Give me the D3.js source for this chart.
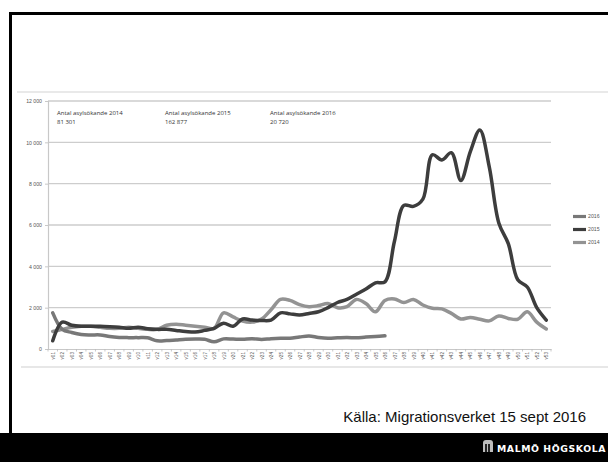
<!DOCTYPE html>
<html>
<head>
<meta charset="utf-8">
<script src="https://cdn.jsdelivr.net/npm/d3@7"></script>
<style>
  body { margin: 0; background: #fff; }
  svg { display: block; }
  .tick-label { font-family: "Liberation Sans", Arial, sans-serif; fill: #555; }
  .note { font-family: "Open Sans", "Liberation Sans", sans-serif; font-size: 6px; fill: #333; }
</style>
</head>
<body>
<svg id="chart"></svg>
<script>
// DATA
const weeks = d3.range(1, 54).map(d => "v" + (d < 10 ? "0" + d : d));

const seriesNames = ["2016", "2015", "2014"];

const values2016 = [1750, 950, 800, 700, 680, 680, 600, 560, 550, 550, 540, 400, 410, 440, 470, 480,
  470, 350, 490, 480, 470, 500, 460, 500, 520, 520, 580, 630, 560, 520, 540, 560, 540, 580, 600, 640];

const values2015 = [400, 1300, 1150, 1100, 1100, 1100, 1080, 1050, 1000, 1050, 980, 950, 950, 900, 850, 820,
  900, 1000, 1250, 1100, 1450, 1400, 1380, 1400, 1750, 1700, 1650, 1720, 1800, 2000, 2250, 2400, 2650,
  2900, 3200, 3250, 5200, 6950, 6900, 7250, 9400, 9150, 9500, 8150, 9550, 10600, 8800, 6100, 5100, 3350,
  3000, 2000, 1400];

const values2014 = [850, 950, 1050, 1100, 1100, 1050, 1000, 1000, 1050, 1000, 950, 950, 1150, 1200, 1150, 1100,
  1050, 1000, 1750, 1550, 1350, 1300, 1450, 1900, 2400, 2350, 2150, 2050, 2100, 2200, 2000, 2050, 2400,
  2200, 1800, 2350, 2420, 2250, 2400, 2130, 1970, 1940, 1725, 1450, 1530, 1440, 1360, 1600, 1480, 1440,
  1800, 1300, 970];

const yTicks = [0, 2000, 4000, 6000, 8000, 10000, 12000];

const notes = [
  ["Antal asylsökande 2014", "81 301"],
  ["Antal asylsökande 2015", "162 877"],
  ["Antal asylsökande 2016", "20 720"]
];

const caption = "Källa: Migrationsverket 15 sept 2016";
const logoText = "MALMÖ HÖGSKOLA";

// GLOBALS
let svg;
let xScale;
let yScale;
const W = 608, H = 462;
const colors = { "2016": "#787878", "2015": "#3d3d3d", "2014": "#939393" };

setupPage();
drawFrame();
drawChart();
drawFooter();

function setupPage(){
  svg = d3.select("#chart").attr("width", W).attr("height", H);
  svg.append("rect").attr("width", W).attr("height", H).attr("fill", "#fff");

  xScale = d3.scalePoint().domain(weeks).range([48, 551]).padding(0.5);
  yScale = d3.scaleLinear().domain([0, 12000]).range([349, 101]);
}

function drawFrame(){
  // slide border
  svg.append("path")
    .attr("d", `M10.5,440 V13.5 H612`)
    .attr("fill", "none").attr("stroke", "#000").attr("stroke-width", 3);

  // edges of the pasted chart picture
  svg.append("line").attr("x1", 17).attr("x2", W).attr("y1", 92).attr("y2", 92)
    .attr("stroke", "#d4d4d4").attr("stroke-width", 1.2);
  svg.append("line").attr("x1", 21).attr("x2", W).attr("y1", 367).attr("y2", 367)
    .attr("stroke", "#cfcfcf").attr("stroke-width", 1.2);
}

function drawChart(){
  let g = svg.append("g");

  // gridlines
  g.selectAll(".grid").data(yTicks.filter(d => d > 0)).enter().append("line")
    .attr("x1", 48).attr("x2", 551)
    .attr("y1", d => yScale(d)).attr("y2", d => yScale(d))
    .attr("stroke", "#cdcdcd").attr("stroke-width", 1.3);

  // y axis
  let yAxis = d3.axisLeft(yScale).tickValues(yTicks).tickSize(3).tickPadding(3)
    .tickFormat(d => d3.format(",")(d).replace(",", " "));
  let ya = g.append("g").attr("transform", "translate(48,0)").call(yAxis);
  ya.select(".domain").attr("stroke", "#c8c8c8").attr("stroke-width", 1.2);
  ya.selectAll(".tick line").attr("stroke", "#c8c8c8");
  ya.selectAll("text").attr("class", "tick-label").attr("font-size", 5.2).attr("fill", "#555");

  // x axis
  let xAxis = d3.axisBottom(xScale).tickSize(0).tickPadding(0);
  let xa = g.append("g").attr("transform", "translate(0,349)").call(xAxis);
  xa.select(".domain").attr("stroke", "#c8c8c8").attr("stroke-width", 1.2);
  xa.selectAll(".tick text")
    .attr("class", "tick-label")
    .attr("font-size", 4.6).attr("fill", "#555")
    .attr("text-anchor", "end")
    .attr("dy", "0.35em")
    .attr("transform", "translate(0,3) rotate(-90)");
  // tick marks between categories
  xa.selectAll(".sep").data(d3.range(weeks.length + 1)).enter().append("line")
    .attr("x1", i => 48 + i * xScale.step()).attr("x2", i => 48 + i * xScale.step())
    .attr("y1", 0).attr("y2", 2.5).attr("stroke", "#bbb").attr("stroke-width", 0.8);

  // lines
  let line = d3.line()
    .x((d, i) => xScale(weeks[i]))
    .y(d => yScale(d))
    .curve(d3.curveCatmullRom);

  let series = [
    { name: "2014", values: values2014 },
    { name: "2016", values: values2016 },
    { name: "2015", values: values2015 }
  ];

  g.selectAll(".series").data(series).enter().append("path")
    .attr("class", "series")
    .attr("d", d => line(d.values))
    .attr("fill", "none")
    .attr("stroke", d => colors[d.name])
    .attr("stroke-width", 3.5)
    .attr("stroke-linejoin", "round")
    .attr("stroke-linecap", "round");

  // legend
  let legend = g.selectAll(".legend").data(seriesNames).enter().append("g")
    .attr("class", "legend")
    .attr("transform", (d, i) => `translate(573,${216.5 + i * 13})`);
  legend.append("line").attr("x1", 0).attr("x2", 13)
    .attr("stroke", d => colors[d]).attr("stroke-width", 3.2);
  legend.append("text").attr("class", "tick-label")
    .attr("x", 15).attr("dy", "0.35em").attr("font-size", 5.2)
    .text(d => d);

  // totals
  let noteX = [57, 165, 270];
  let nt = g.selectAll(".note").data(notes).enter().append("text")
    .attr("class", "note")
    .attr("x", (d, i) => noteX[i]).attr("y", 114.5);
  nt.append("tspan").text(d => d[0]);
  nt.append("tspan").attr("x", (d, i) => noteX[i]).attr("dy", 9).text(d => d[1]);
}

function drawFooter(){
  svg.append("text")
    .attr("x", 586).attr("y", 422)
    .attr("text-anchor", "end")
    .attr("font-family", "Liberation Sans, Arial, sans-serif")
    .attr("font-size", 15).attr("fill", "#111")
    .text(caption);

  svg.append("rect").attr("x", 0).attr("y", 433).attr("width", W).attr("height", H - 433).attr("fill", "#000");

  // logo mark
  let logo = svg.append("g").attr("transform", "translate(483,440)");
  logo.append("path")
    .attr("d", "M0,12 V3 Q0,0 3,0 H7 Q10,0 10,3 V12 Z")
    .attr("fill", "#bdbdbd");
  logo.selectAll(".bar").data([2.2, 5.2]).enter().append("rect")
    .attr("x", d => d).attr("y", 4).attr("width", 1.6).attr("height", 8).attr("fill", "#000");

  svg.append("text")
    .attr("x", 497).attr("y", 451.5)
    .attr("font-family", "DejaVu Sans, Liberation Sans, sans-serif")
    .attr("font-weight", "bold")
    .attr("font-size", 9.3).attr("letter-spacing", 0.6)
    .attr("fill", "#fff")
    .text(logoText);
}
</script>
</body>
</html>
